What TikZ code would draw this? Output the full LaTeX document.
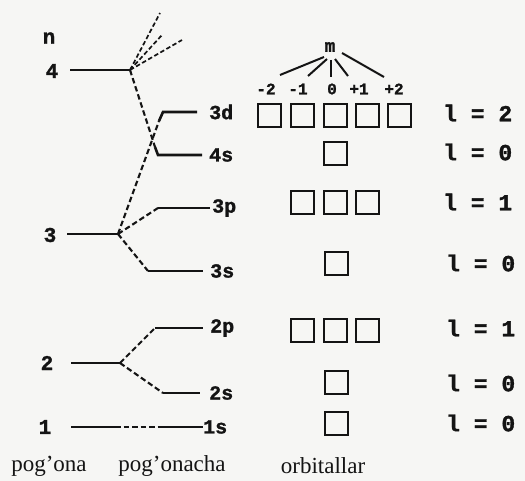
\documentclass[tikz,border=0pt]{standalone}
\usepackage{fontspec}
\setmainfont{Liberation Serif}
\newfontfamily\monofont{Liberation Mono Bold}[FakeBold=1.4]
\definecolor{paper}{RGB}{246,246,244}
\definecolor{ink}{RGB}{20,20,20}
\begin{document}
\begin{tikzpicture}[x=1pt,y=-1pt,
  lvl/.style={draw=ink,line width=2.6pt},
  splitline/.style={draw=ink,line width=2.1pt,dash pattern=on 5.5pt off 3pt},
  fanline/.style={draw=ink,line width=1.7pt,dash pattern=on 4.5pt off 2.5pt},
  mline/.style={draw=ink,line width=2pt},
  orb/.style={draw=ink,line width=2pt,minimum size=23pt,inner sep=0pt},
  lab/.style={text=ink,inner sep=0pt,font=\monofont\fontsize{21}{21}\selectfont},
  sublab/.style={text=ink,inner sep=0pt,anchor=west,font=\monofont\fontsize{20}{20}\selectfont},
  mlab/.style={text=ink,inner sep=0pt,font=\monofont\fontsize{16}{16}\selectfont},
  qn/.style={text=ink,inner sep=0pt,anchor=west,font=\monofont\fontsize{23}{23}\selectfont},
  colcap/.style={text=ink,inner sep=0pt,font=\fontsize{23}{23}\selectfont}]
\fill[paper] (0,0) rectangle (525,481);
\useasboundingbox (0,0) rectangle (525,481);

% principal levels
\node[lab] (nlab) at (49,38) {n};
\node[lab] (lab4) at (52,71) {4};
\node[lab] (lab3) at (50,235) {3};
\node[lab] (lab2) at (47,363) {2};
\node[lab] (lab1) at (45,427) {1};

\coordinate (L4) at (70,70);  \coordinate (J4) at (130,70);
\coordinate (L3) at (67,234); \coordinate (J3) at (118,234);
\coordinate (L2) at (71,363); \coordinate (J2) at (120,363);
\coordinate (L1) at (71,427); \coordinate (J1) at (115,427);
\draw[lvl] (L4) -- (J4);
\draw[lvl] (L3) -- (J3);
\draw[lvl] (L2) -- (J2);
\draw[lvl] (L1) -- (J1);

% n = 4 fan
\coordinate (u1) at (160,13);
\coordinate (u2) at (162,35);
\coordinate (u3) at (182,40);
\draw[fanline] (J4) -- (u1);
\draw[fanline] (J4) -- (u2);
\draw[fanline] (J4) -- (u3);

% sublevels
\coordinate (k4s) at (155,147); \coordinate (a4s) at (158,155); \coordinate (b4s) at (202,155);
\coordinate (k3d) at (159,121); \coordinate (a3d) at (163,112); \coordinate (b3d) at (197,112);
\coordinate (a3p) at (158,208); \coordinate (b3p) at (210,208);
\coordinate (a3s) at (148,271); \coordinate (b3s) at (203,271);
\coordinate (a2p) at (155,328); \coordinate (b2p) at (203,328);
\coordinate (a2s) at (163,393); \coordinate (b2s) at (200,393);
\coordinate (a1s) at (160,427); \coordinate (b1s) at (203,427);

\draw[splitline] (J4) -- (k4s);
\draw[lvl] (k4s) -- (a4s) -- (b4s);
\draw[splitline] (J3) -- (k3d);
\draw[lvl] (k3d) -- (a3d) -- (b3d);
\draw[splitline] (J3) -- (a3p);
\draw[lvl] (a3p) -- (b3p);
\draw[splitline] (J3) -- (a3s);
\draw[lvl] (a3s) -- (b3s);
\draw[splitline] (J2) -- (a2p);
\draw[lvl] (a2p) -- (b2p);
\draw[splitline] (J2) -- (a2s);
\draw[lvl] (a2s) -- (b2s);
\draw[splitline] (J1) -- (a1s);
\draw[lvl] (a1s) -- (b1s);

\node[sublab] (t3d) at (209,112) {3d};
\node[sublab] (t4s) at (209,155) {4s};
\node[sublab] (t3p) at (212,208) {3p};
\node[sublab] (t3s) at (210,271) {3s};
\node[sublab] (t2p) at (210,328) {2p};
\node[sublab] (t2s) at (209,393) {2s};
\node[sublab] (t1s) at (203,427) {1s};

% magnetic quantum number
\node[mlab,font=\monofont\fontsize{18}{18}\selectfont] (m) at (330,47) {m};
\node[mlab] (m1) at (266,89) {-2};
\node[mlab] (m2) at (298,89) {-1};
\node[mlab] (m3) at (332,89) {0};
\node[mlab] (m4) at (359,89) {+1};
\node[mlab] (m5) at (394,89) {+2};
\coordinate (f1) at (280,75); \coordinate (f2) at (308,76);
\coordinate (f3) at (331,77); \coordinate (f4) at (348,76); \coordinate (f5) at (384,77);
\draw[mline] (324,57) -- (f1);
\draw[mline] (327,59) -- (f2);
\draw[mline] (331,60) -- (f3);
\draw[mline] (335,59) -- (f4);
\draw[mline] (342,53) -- (f5);

% orbital cells
\foreach \i/\x in {1/269.5,2/302.5,3/335.5,4/367.5,5/399.5}
  \node[orb] (d\i) at (\x,115.5) {};
\node[orb] (s4) at (335.5,153.5) {};
\foreach \i/\x in {1/302.5,2/335.5,3/367.5}
  \node[orb] (p3\i) at (\x,202.5) {};
\node[orb] (s3) at (336.5,263.5) {};
\foreach \i/\x in {1/302.5,2/335.5,3/367.5}
  \node[orb] (p2\i) at (\x,330.5) {};
\node[orb] (s2) at (336.5,382.5) {};
\node[orb] (s1) at (336.5,423.5) {};

% orbital quantum number
\node[qn] (q3d) at (443,113) {l = 2};
\node[qn] (q4s) at (443,152) {l = 0};
\node[qn] (q3p) at (443,202) {l = 1};
\node[qn] (q3s) at (446,263) {l = 0};
\node[qn] (q2p) at (446,328) {l = 1};
\node[qn] (q2s) at (446,383) {l = 0};
\node[qn] (q1s) at (446,423) {l = 0};

% column captions
\node[colcap] (c1) at (49,466) {pog'ona};
\node[colcap] (c2) at (172,466) {pog'onacha};
\node[colcap] (c3) at (323,466) {orbitallar};
\end{tikzpicture}
\end{document}
